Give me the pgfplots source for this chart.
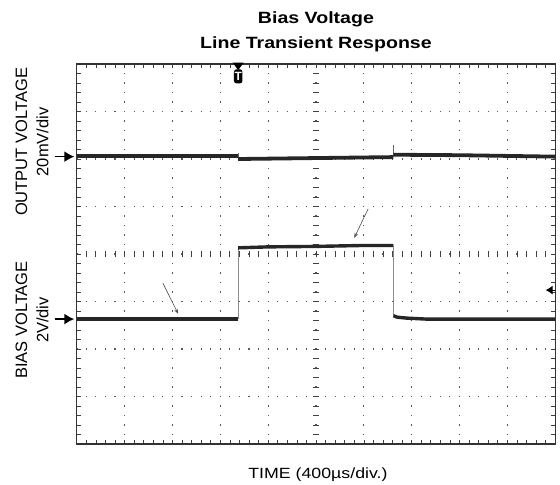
\documentclass[border=0pt]{standalone}
\usepackage{fontspec}
\setmainfont{Liberation Sans}
\newfontfamily\widesans[FakeStretch=1.2]{Liberation Sans}
\usepackage{pgfplots}
\pgfplotsset{compat=1.18}
\usetikzlibrary{arrows.meta}

% scope-style trace: x in divisions (400us/div), y in divisions
\begin{document}
\begin{tikzpicture}
\useasboundingbox (0,0) rectangle (560bp,-485bp);
\begin{axis}[
    at={(76.7bp,-444bp)}, anchor=south west,
    width=478.5bp, height=380bp, scale only axis,
    xmin=0, xmax=10, ymin=-4, ymax=4,
    xtick={0,...,10}, ytick={-4,...,4},
    minor tick num=4,
    xticklabels={}, yticklabels={},
    tick align=inside,
    major tick length=4bp, minor tick length=4bp,
    tick style={black!75, line width=0.6bp},
    grid=major,
    x grid style={black!65, line width=1.1bp, dash pattern=on 1.1bp off 8.4bp, dash phase=0.55bp},
    y grid style={black!65, line width=1.1bp, dash pattern=on 1.1bp off 8.47bp, dash phase=0.55bp},
    axis line style={black!80, line width=1.3bp},
    clip=false,
]

% center crosshair ticks
\pgfplotsinvokeforeach{0.2,0.4,...,9.9}{
  \draw[black!75, line width=0.7bp] (axis cs:#1,-0.07) -- (axis cs:#1,0.07);
}
\pgfplotsinvokeforeach{-3.8,-3.6,...,3.9}{
  \draw[black!75, line width=0.7bp] (axis cs:4.93,#1) -- (axis cs:5.07,#1);
}

% output voltage trace (20mV/div)
\addplot[black!85, line width=3.8bp] coordinates {(0,2.06) (1.5,2.06) (3.375,2.06)};
\addplot[black!60, line width=0.8bp] coordinates {(3.375,2.12) (3.375,1.96)};
\addplot[black!85, line width=3.8bp] coordinates {(3.375,2.00) (5,2.02) (6.62,2.04)};
\addplot[black!60, line width=0.8bp] coordinates {(6.62,2.04) (6.62,2.30)};
\addplot[black!85, line width=3.8bp] coordinates {(6.62,2.09) (8,2.08) (10,2.05)};

% bias voltage trace (2V/div)
\addplot[black!85, line width=3.4bp] coordinates {(0,-1.37) (2,-1.37) (3.375,-1.37)};
\addplot[black!45, line width=0.7bp] coordinates {(3.375,-1.37) (3.375,0.14)};
\addplot[black!85, line width=3.4bp] coordinates {(3.375,0.13) (4,0.15) (5,0.16) (6,0.18) (6.62,0.18)};
\addplot[black!45, line width=0.7bp] coordinates {(6.62,0.18) (6.62,-1.30)};
\addplot[black!85, line width=3.4bp] coordinates {(6.62,-1.30) (6.7,-1.33) (6.9,-1.35) (7.3,-1.37) (10,-1.37)};

% annotation arrows
\draw[-{Stealth[length=5bp,width=3.5bp]}, black!70, line width=0.6bp] (axis cs:1.80,-0.61) -- (axis cs:2.12,-1.26);
\draw[-{Stealth[length=5bp,width=3.5bp]}, black!70, line width=0.6bp] (axis cs:6.09,0.95) -- (axis cs:5.80,0.34);

% channel ground markers and trigger level
\draw[-{Latex[length=10bp,width=11bp]}, line width=1.6bp] (axis cs:-0.46,2.05) -- (axis cs:-0.05,2.05);
\draw[-{Latex[length=10bp,width=11bp]}, line width=1.6bp] (axis cs:-0.46,-1.37) -- (axis cs:-0.05,-1.37);
\draw[-{Latex[length=7bp,width=9bp]}, line width=1bp] (axis cs:10.0,-0.76) -- (axis cs:9.80,-0.76);

% trigger position marker
\fill[black] (axis cs:3.26,4.03) -- (axis cs:3.49,4.03) -- (axis cs:3.375,3.87) -- cycle;
\node[fill=black, text=white, inner sep=0pt, minimum width=8.5bp, minimum height=14bp,
      rounded corners=2.5bp, font=\bfseries\fontsize{12bp}{12bp}\selectfont]
  at (axis cs:3.375,3.74) {T};

% titles and labels
\node[anchor=base, yshift=40.7bp, font=\widesans\bfseries\fontsize{16.3bp}{19bp}\selectfont]
  at (rel axis cs:0.5,1) {Bias Voltage};
\node[anchor=base, yshift=15.7bp, font=\widesans\bfseries\fontsize{16.3bp}{19bp}\selectfont]
  at (rel axis cs:0.5,1) {Line Transient Response};
\node[anchor=base, yshift=-34bp, xshift=2bp, font=\widesans\fontsize{14.8bp}{17bp}\selectfont]
  at (rel axis cs:0.5,0) {TIME (400µs/div.)};

\node[rotate=90, font=\fontsize{16.5bp}{19bp}\selectfont] at (axis cs:-1.154,2.36) {OUTPUT VOLTAGE};
\node[rotate=90, font=\fontsize{16.5bp}{19bp}\selectfont] at (axis cs:-0.715,2.36) {20mV/div};
\node[rotate=90, font=\fontsize{16.5bp}{19bp}\selectfont] at (axis cs:-1.154,-1.39) {BIAS VOLTAGE};
\node[rotate=90, font=\fontsize{16.5bp}{19bp}\selectfont] at (axis cs:-0.715,-1.39) {2V/div};

\end{axis}
\end{tikzpicture}
\end{document}
